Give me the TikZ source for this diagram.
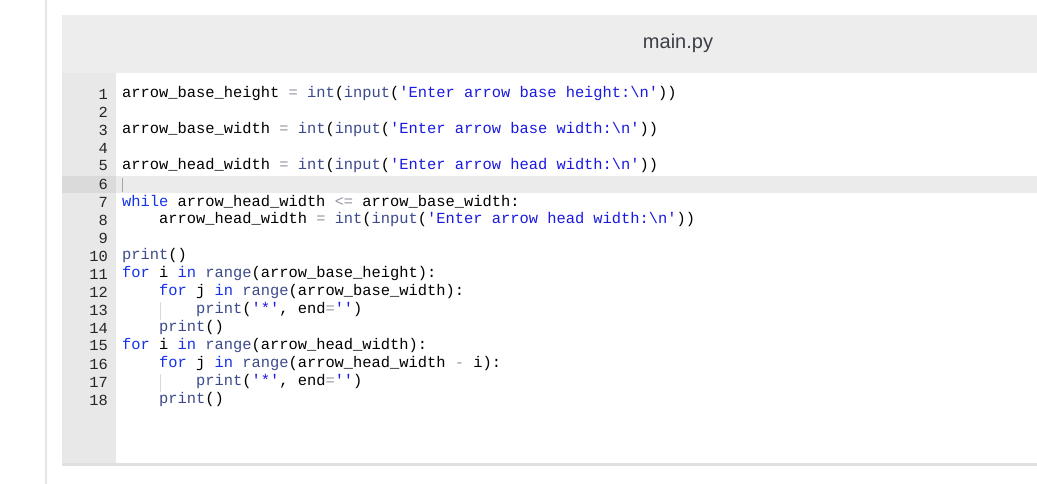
\documentclass[tikz,border=0pt]{standalone}
\usepackage{fontspec}
\setmainfont{Liberation Sans}
\setmonofont{Liberation Mono}
\definecolor{hdr}{RGB}{237,237,237}
\definecolor{gut}{RGB}{232,232,232}
\definecolor{hl}{RGB}{235,235,235}
\definecolor{hlg}{RGB}{218,218,218}
\definecolor{kwc}{RGB}{20,50,235}
\definecolor{bic}{RGB}{60,75,140}
\definecolor{opc}{RGB}{150,150,165}
\definecolor{stc}{RGB}{25,25,225}
\definecolor{title}{RGB}{60,64,70}
\newcommand{\K}[1]{\textcolor{kwc}{#1}}
\newcommand{\B}[1]{\textcolor{bic}{#1}}
\newcommand{\Op}[1]{\textcolor{opc}{#1}}
\newcommand{\St}[1]{\textcolor{stc}{#1}}
\tikzset{code/.style={anchor=west,inner sep=0pt,font=\ttfamily\fontsize{15.4}{18}\selectfont,text=black},
 lnum/.style={anchor=east,inner sep=0pt,font=\ttfamily\fontsize{15.4}{18}\selectfont,text=black!85}}
\begin{document}
\begin{tikzpicture}[x=1pt,y=-1pt]
\useasboundingbox (0,0) rectangle (1037,484);
\fill[white] (0,0) rectangle (1037,484);
\draw[black!10,line width=1.5pt] (46,0) -- (46,484);
\fill[black!12] (62,463) rectangle (1037,466);
\fill[white] (62,15) rectangle (1037,463);
\fill[hdr] (62,15) rectangle (1037,73);
\fill[gut] (62,73) rectangle (116,463);
\fill[hl] (116,176) rectangle (1037,193);
\fill[hlg] (62,176) rectangle (116,193);
\node[font=\fontsize{20}{24}\selectfont,text=title] (t) at (678,43) {main.py};
\draw[black!35] (122,178) -- (122,192);
\draw[black!15] (160,302) -- (160,320);
\draw[black!15] (160,374) -- (160,392);
\foreach \n in {1,...,18} {\node[lnum] (n\n) at (108,{94+18*(\n-1)}) {\n};}
\node[code] (l1) at (122,94) {arrow\_base\_height \Op{=} \B{int}(\B{input}(\St{'Enter arrow base height:\textbackslash n'}))};
\node[code] (l3) at (122,130) {arrow\_base\_width \Op{=} \B{int}(\B{input}(\St{'Enter arrow base width:\textbackslash n'}))};
\node[code] (l5) at (122,166) {arrow\_head\_width \Op{=} \B{int}(\B{input}(\St{'Enter arrow head width:\textbackslash n'}))};
\node[code] (l7) at (122,202) {\K{while} arrow\_head\_width \Op{<=} arrow\_base\_width:};
\node[code] (l8) at (122,220) {\phantom{1234}arrow\_head\_width \Op{=} \B{int}(\B{input}(\St{'Enter arrow head width:\textbackslash n'}))};
\node[code] (l10) at (122,256) {\B{print}()};
\node[code] (l11) at (122,274) {\K{for} i \K{in} \B{range}(arrow\_base\_height):};
\node[code] (l12) at (122,292) {\phantom{1234}\K{for} j \K{in} \B{range}(arrow\_base\_width):};
\node[code] (l13) at (122,310) {\phantom{12345678}\B{print}(\St{'*'}, end\Op{=}\St{''})};
\node[code] (l14) at (122,328) {\phantom{1234}\B{print}()};
\node[code] (l15) at (122,346) {\K{for} i \K{in} \B{range}(arrow\_head\_width):};
\node[code] (l16) at (122,364) {\phantom{1234}\K{for} j \K{in} \B{range}(arrow\_head\_width \Op{-} i):};
\node[code] (l17) at (122,382) {\phantom{12345678}\B{print}(\St{'*'}, end\Op{=}\St{''})};
\node[code] (l18) at (122,400) {\phantom{1234}\B{print}()};
\end{tikzpicture}
\end{document}
